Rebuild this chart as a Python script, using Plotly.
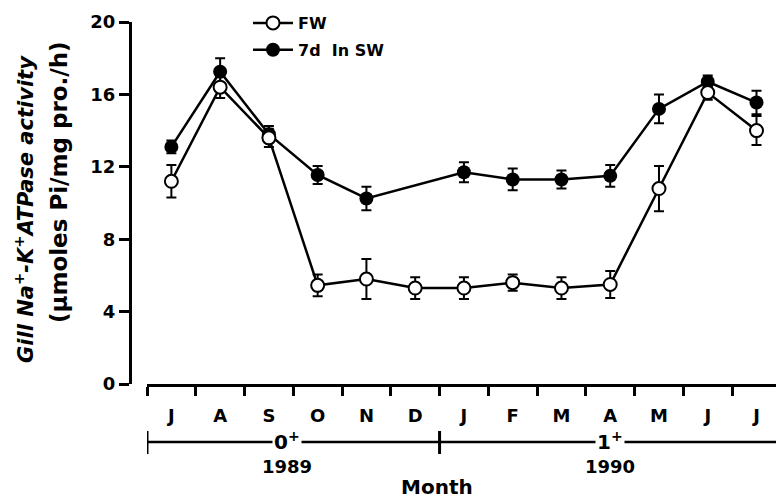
import plotly.graph_objects as go

# ---- data ----
months = ["J", "A", "S", "O", "N", "D", "J", "F", "M", "A", "M", "J", "J"]
x_pos = list(range(len(months)))
fw = [11.2, 16.4, 13.6, 5.45, 5.8, 5.3, 5.3, 5.6, 5.3, 5.5, 10.8, 16.1, 14.0]
fw_err = [0.9, 0.6, 0.5, 0.6, 1.1, 0.6, 0.6, 0.45, 0.6, 0.75, 1.25, 0.4, 0.8]
sw = [13.1, 17.25, 13.8, 11.55, 10.25, None, 11.7, 11.3, 11.3, 11.5, 15.2, 16.7, 15.55]
sw_err = [0.35, 0.75, 0.45, 0.5, 0.65, None, 0.55, 0.6, 0.5, 0.6, 0.8, 0.35, 0.65]
y_ticks = [0, 4, 8, 12, 16, 20]
age_groups = [("0<sup>+</sup>", "1989", 2.37), ("1<sup>+</sup>", "1990", 9.0)]
group_bounds = [-0.5, 5.5]

FONT = "DejaVu Sans, Liberation Sans, Arial, sans-serif"
W, H = 776, 499
L_PX, T_PX, B_PX = 147, 22, 384

def py(pix):
    return (B_PX - pix) / (B_PX - T_PX)

fig = go.Figure()
fig.add_trace(go.Scatter(
    x=x_pos, y=sw, name="7d  In SW", mode="lines+markers", connectgaps=True,
    line=dict(color="black", width=2.5),
    marker=dict(symbol="circle", size=14, color="black"),
    error_y=dict(type="data", array=sw_err, color="black", thickness=2, width=5),
    legendrank=2, legendgroup="sw",
))
fig.add_trace(go.Scatter(
    x=x_pos, y=fw, name="FW", mode="lines+markers",
    line=dict(color="black", width=2.5),
    marker=dict(symbol="circle", size=13, color="white", line=dict(color="black", width=2)),
    error_y=dict(type="data", array=fw_err, color="black", thickness=2, width=5),
    legendrank=1, legendgroup="fw",
))

# bracket line below the month axis
yl = py(442)
fig.add_shape(type="line", xref="x", yref="paper", x0=-0.5, x1=12.4, y0=yl, y1=yl,
              line=dict(color="black", width=2.5))
for b in group_bounds:
    fig.add_shape(type="line", xref="x", yref="paper", x0=b, x1=b, y0=py(431), y1=py(454),
                  line=dict(color="black", width=3))

annotations = []
for lab, yr, xc in age_groups:
    annotations.append(dict(x=xc, y=py(441), xref="x", yref="paper", text=lab, showarrow=False,
                            bgcolor="white", borderpad=1,
                            font=dict(family=FONT, size=20, color="black", weight="bold"),
                            xanchor="center", yanchor="middle"))
    annotations.append(dict(x=xc, y=py(466), xref="x", yref="paper", text=yr, showarrow=False,
                            font=dict(family=FONT, size=18, color="black", weight="bold"),
                            xanchor="center", yanchor="middle"))
annotations.append(dict(x=437 / W, y=py(487), xref="paper", yref="paper", text="Month",
                        showarrow=False, xanchor="center", yanchor="middle",
                        font=dict(family=FONT, size=20, color="black", weight="bold")))
annotations.append(dict(x=24 / W, y=py(209), xref="paper", yref="paper",
                        text="<i>Gill Na<sup>+</sup>-K<sup>+</sup>ATPase activity</i>",
                        textangle=-90, showarrow=False, xanchor="center", yanchor="middle",
                        font=dict(family=FONT, size=21, color="black", weight="bold")))
annotations.append(dict(x=59 / W, y=py(182), xref="paper", yref="paper",
                        text="(µmoles Pi/mg pro./h)",
                        textangle=-90, showarrow=False, xanchor="center", yanchor="middle",
                        font=dict(family=FONT, size=23, color="black", weight="bold")))

fig.update_layout(
    width=W, height=H,
    margin=dict(l=0, r=0, t=T_PX, b=H - B_PX),
    paper_bgcolor="white", plot_bgcolor="white",
    showlegend=True,
    legend=dict(x=248 / W, y=py(6), xanchor="left", yanchor="top",
                bgcolor="rgba(0,0,0,0)", tracegroupgap=3, itemwidth=40,
                font=dict(family=FONT, size=16, color="black", weight="bold")),
    xaxis=dict(domain=[L_PX / W, 1], range=[-0.5, 12.4],
               tickvals=x_pos, ticktext=months,
               ticks="outside", ticklen=13, tickcolor="rgba(0,0,0,0)",
               tickfont=dict(family=FONT, size=18, color="black", weight="bold"),
               showline=True, linecolor="black", linewidth=3,
               showgrid=False, zeroline=False,
               minor=dict(tickvals=[i - 0.5 for i in x_pos], ticks="outside",
                          ticklen=9, tickwidth=3, tickcolor="black", showgrid=False)),
    yaxis=dict(anchor="free", position=130 / W, range=[0, 20],
               tickvals=y_ticks, ticks="outside", ticklen=10, tickwidth=3,
               tickcolor="black",
               tickfont=dict(family=FONT, size=18, color="black", weight="bold"),
               showline=True, linecolor="black", linewidth=3,
               showgrid=False, zeroline=False),
    annotations=annotations,
)

fig.write_html("out.html")
